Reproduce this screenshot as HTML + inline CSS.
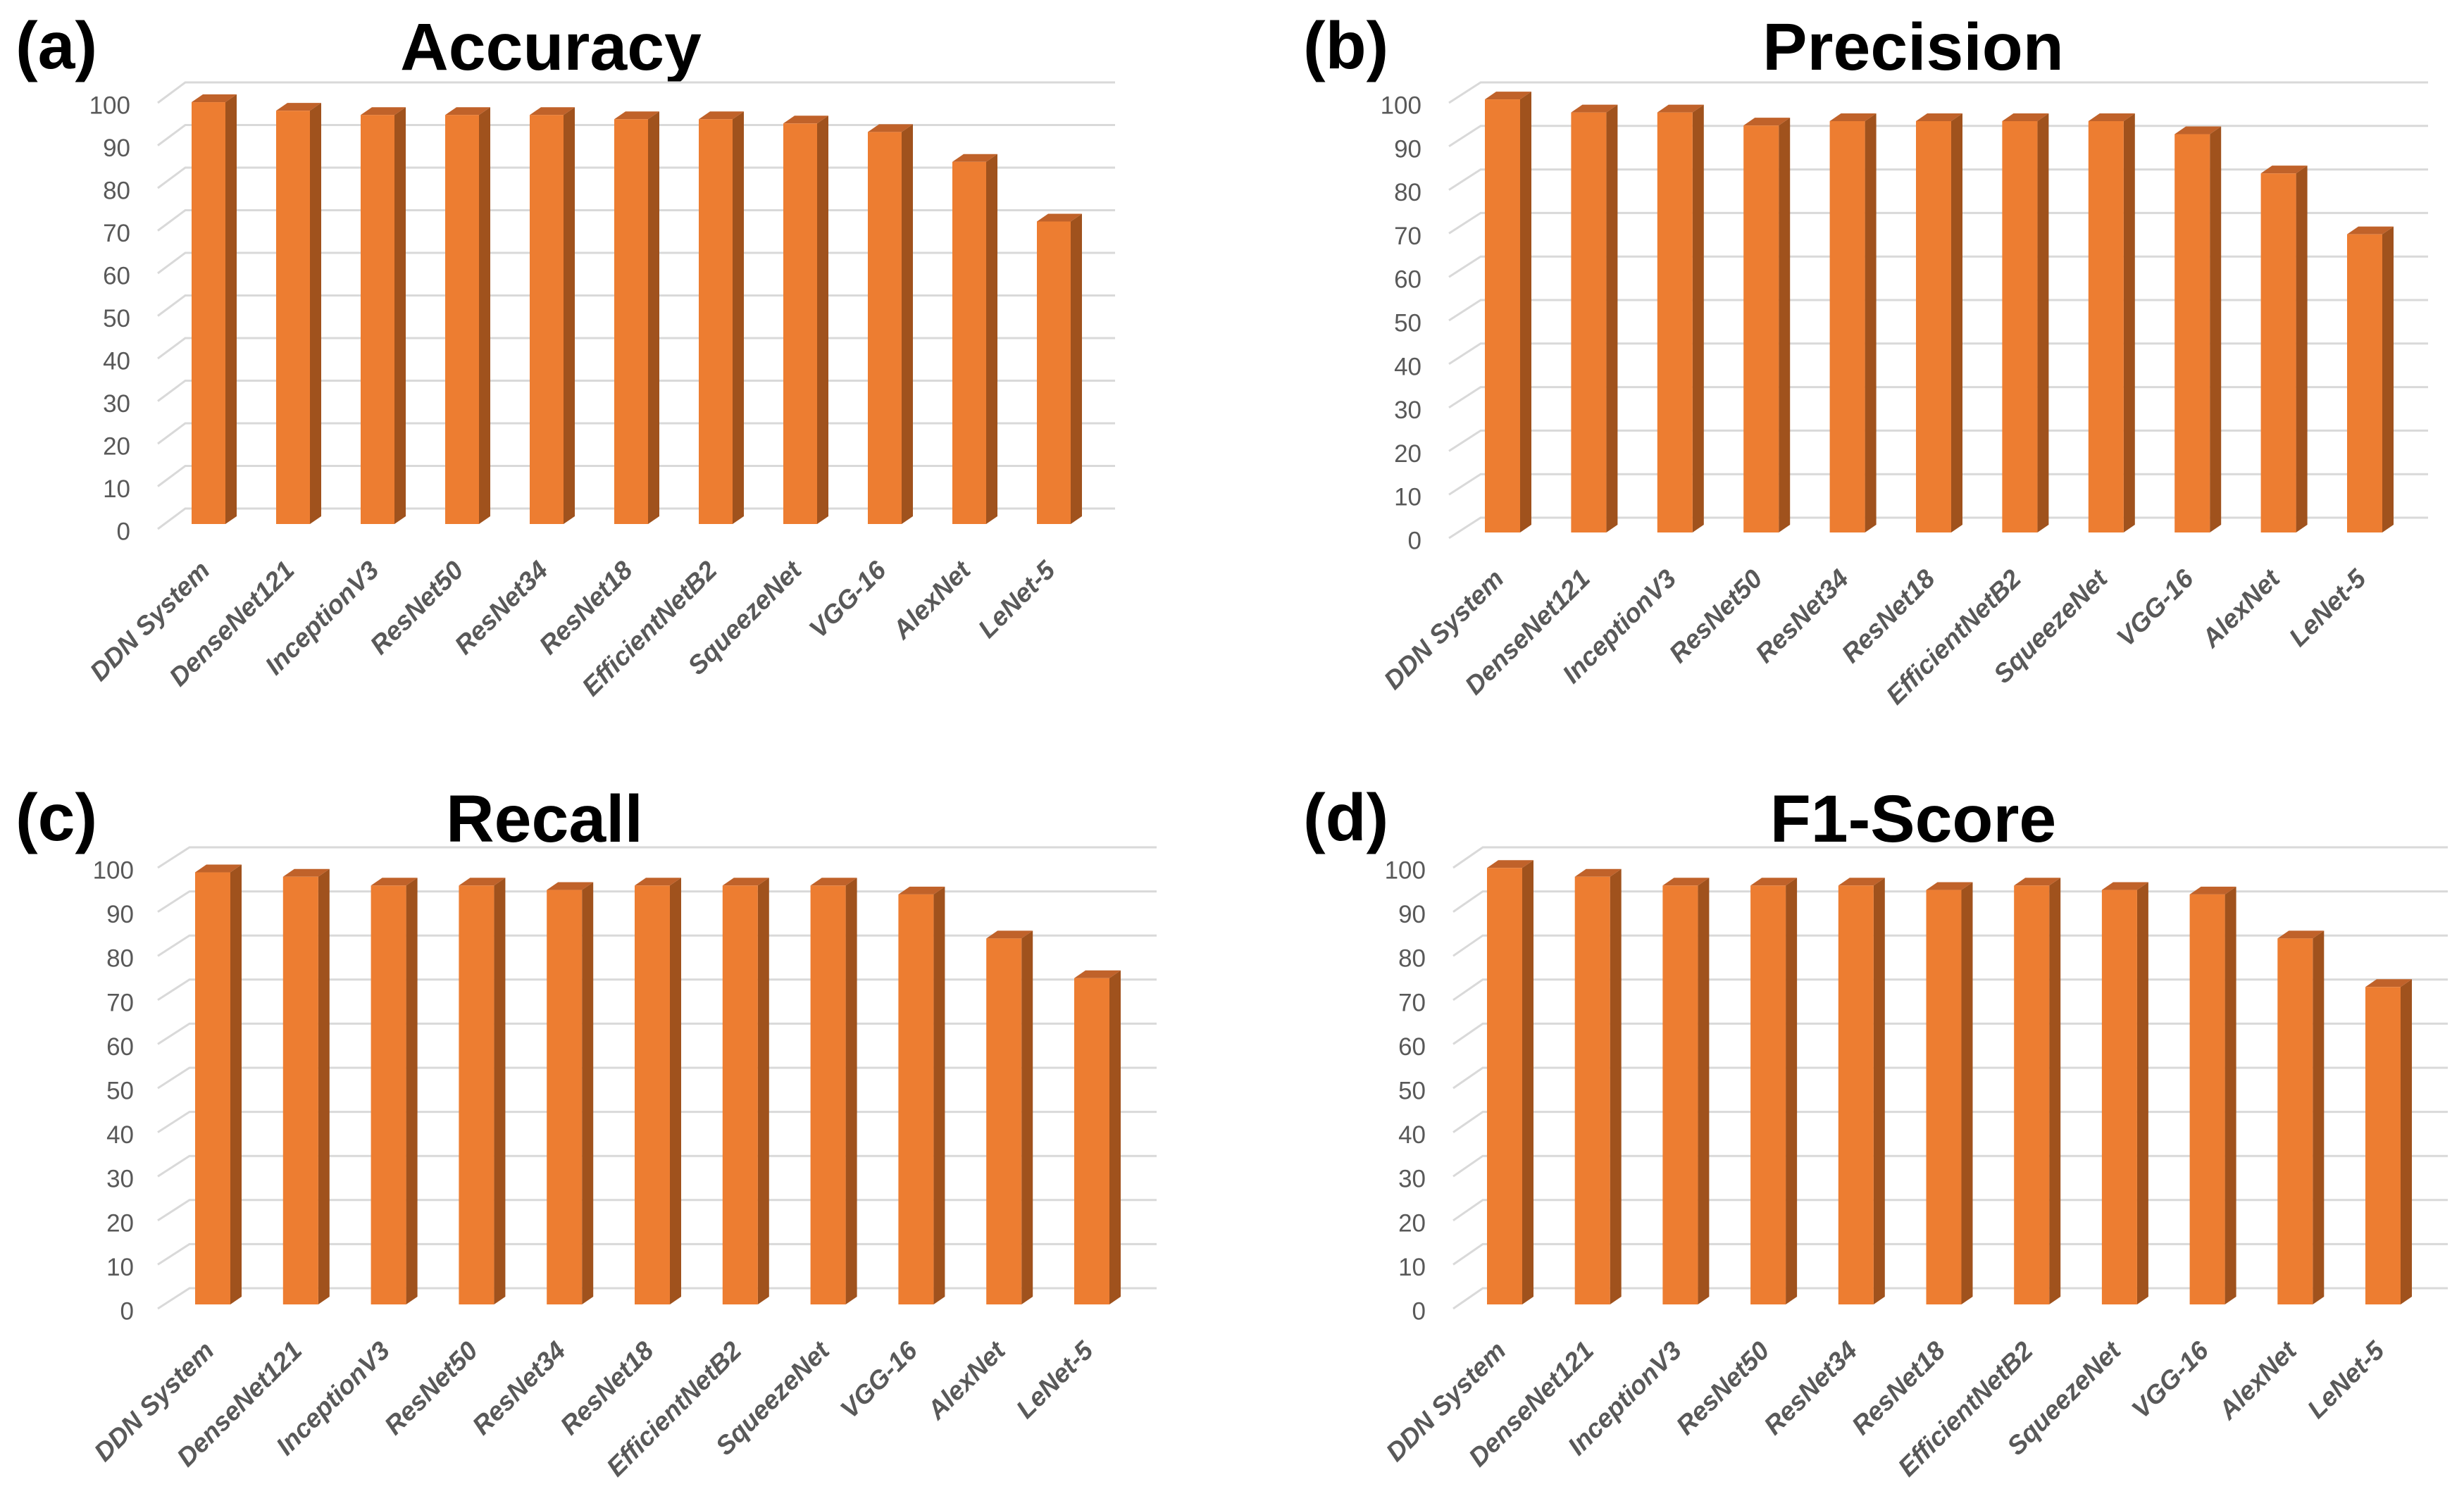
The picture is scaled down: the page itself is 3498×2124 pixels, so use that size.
<!DOCTYPE html>
<html><head><meta charset="utf-8"><style>
html,body{margin:0;padding:0;background:#fff}
svg{display:block}
</style></head><body>
<svg id="fig" width="3498" height="2124" viewBox="0 0 3498 2124" xmlns="http://www.w3.org/2000/svg"></svg>
<script>
const categories = ["DDN System","DenseNet121","InceptionV3","ResNet50","ResNet34","ResNet18","EfficientNetB2","SqueezeNet","VGG-16","AlexNet","LeNet-5"];
const accuracyValues = [99,97,96,96,96,95,95,94,92,85,71];
const precisionValues = [99.5,96.5,96.5,93.5,94.5,94.5,94.5,94.5,91.5,82.5,68.5];
const recallValues = [98,97,95,95,94,95,95,95,93,83,74];
const f1Values = [99,97,95,95,95,94,95,94,93,83,72];
const yTicks = [0,10,20,30,40,50,60,70,80,90,100];
const panelLetters = ["(a)","(b)","(c)","(d)"];
const panelTitles = ["Accuracy","Precision","Recall","F1-Score"];

const NS = "http://www.w3.org/2000/svg";
const svg = document.getElementById('fig');
function mk(tag, attrs, parent){
  const e = document.createElementNS(NS, tag);
  for (const k in attrs) e.setAttribute(k, attrs[k]);
  (parent||svg).appendChild(e);
  return e;
}
const layouts = [
  {letterX:22, letterY:97, titleX:782, titleY:99, gTop:117, gBot:722, gx0:263, gx1:1583, dx0:224, bx0:272, step:120, bw:48, tickX:185, botOff:22},
  {letterX:1850, letterY:97, titleX:2716, titleY:99, gTop:117, gBot:735, gx0:2102, gx1:3447, dx0:2057, bx0:2108, step:122.4, bw:50, tickX:2018, botOff:21},
  {letterX:22, letterY:1193, titleX:773, titleY:1195, gTop:1203, gBot:1829, gx0:269, gx1:1642, dx0:224, bx0:277, step:124.8, bw:50, tickX:190, botOff:23},
  {letterX:1850, letterY:1193, titleX:2716, titleY:1195, gTop:1203, gBot:1829, gx0:2105, gx1:3475, dx0:2063, bx0:2111, step:124.7, bw:50, tickX:2024, botOff:23}
];
const series = [accuracyValues, precisionValues, recallValues, f1Values];
const yMax = 100;

for (let p = 0; p < 4; p++) {
  const L = layouts[p];
  const vals = series[p];
  const g = mk('g', {});
  
  
  const yGrid = v => L.gBot - (v / yMax) * (L.gBot - L.gTop);
  const scale = (L.gBot - L.gTop) / yMax;
  const bottom = L.gBot + L.botOff;
  const yBar = v => bottom - v * scale;
  const xBar = i => L.bx0 + i * L.step;

  const letter = mk('text', {x:L.letterX, y:L.letterY, 'font-family':'Liberation Sans, sans-serif', 'font-weight':'bold', 'font-size':95, fill:'#000'}, g);
  letter.textContent = panelLetters[p];
  
  
  const title = mk('text', {x:L.titleX, y:L.titleY, 'text-anchor':'middle', 'font-family':'Liberation Sans, sans-serif', 'font-weight':'bold', 'font-size':95, fill:'#000'}, g);
  title.textContent = panelTitles[p];
  
  

  yTicks.forEach(t => {
    const y = yGrid(t);
    const gl = mk('path', {d:`M${L.dx0},${y+29} L${L.gx0},${y} L${L.gx1},${y}`, stroke:'#d9d9d9', 'stroke-width':3, fill:'none'}, g);
    
    
    const tl = mk('text', {x:L.tickX, y:y+33, 'text-anchor':'end', 'dominant-baseline':'central', 'font-family':'Liberation Sans, sans-serif', 'font-size':35, fill:'#595959'}, g);
    tl.textContent = String(t);
    
    
  });

  vals.forEach((v, i) => {
    const x = xBar(i), w = L.bw, top = yBar(v), dx = 16, dy = 11;
    const bar = mk('g', {}, g);
    
    
    mk('polygon', {points:`${x+w},${top} ${x+w+dx},${top-dy} ${x+w+dx},${bottom-dy} ${x+w},${bottom}`, fill:'#a0521d'}, bar);
    mk('polygon', {points:`${x},${top} ${x+dx},${top-dy} ${x+w+dx},${top-dy} ${x+w},${top}`, fill:'#c0622a'}, bar);
    mk('rect', {x:x, y:top, width:w, height:bottom-top, fill:'#ed7d31'}, bar);
    const cx = x + w/2 + 4, cy = bottom + 68;
    const lab = mk('text', {x:cx, y:cy, 'text-anchor':'end', transform:`rotate(-45 ${cx} ${cy})`, 'font-family':'Liberation Sans, sans-serif', 'font-weight':'bold', 'font-style':'italic', 'font-size':37, fill:'#595959'}, g);
    lab.textContent = categories[i];
    
    
  });
}
</script>
</body></html>
